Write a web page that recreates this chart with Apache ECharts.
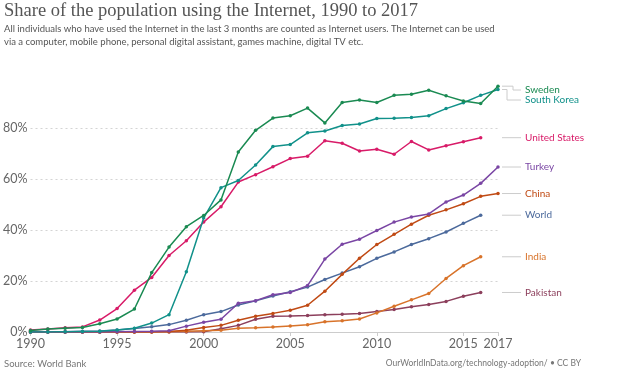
<!DOCTYPE html>
<html><head><meta charset="utf-8">
<script src="https://cdn.jsdelivr.net/npm/echarts@6/dist/echarts.min.js"></script>
<style>html,body{margin:0;padding:0;background:#fff}#c{width:624px;height:382px}</style>
</head><body><div id="c"></div>
<script>
const years = [1990,1991,1992,1993,1994,1995,1996,1997,1998,1999,2000,2001,2002,2003,2004,2005,2006,2007,2008,2009,2010,2011,2012,2013,2014,2015,2016,2017];
const xTickLabels = [1990,1995,2000,2005,2010,2015,2017];
const yTickLabels = [0,20,40,60,80];

const sweden     = [0.6,1.2,1.5,1.8,3.2,5.1,9.0,23.3,33.3,41.3,45.7,51.8,70.6,79.1,83.9,84.8,87.8,82.0,90.0,91.0,90.0,92.8,93.2,94.8,92.6,90.6,89.6,96.4];
const southKorea = [0.0,0.0,0.1,0.2,0.3,0.8,1.5,3.5,6.8,23.6,44.7,56.6,59.4,65.5,72.7,73.5,78.1,78.8,81.0,81.6,83.7,83.8,84.1,84.8,87.6,89.9,92.8,95.1];
const unitedStates=[0.8,1.2,1.7,2.0,4.7,9.2,16.4,21.4,30.0,35.8,43.1,49.1,58.8,61.7,64.8,68.0,68.9,75.0,74.0,71.0,71.7,69.7,74.7,71.4,73.0,74.6,76.2];
const turkey     = [0,0,0,0,0,0.1,0.2,0.3,0.5,2.3,3.8,5.0,11.3,12.3,14.6,15.5,18.2,28.6,34.4,36.4,39.8,43.1,45.1,46.3,51.0,53.7,58.3,64.7];
const china      = [0,0,0,0,0,0,0,0,0.2,0.7,1.8,2.6,4.6,6.2,7.3,8.5,10.5,16.0,22.6,28.9,34.3,38.3,42.3,45.8,47.9,50.3,53.2,54.3];
const world      = [0.05,0.1,0.1,0.3,0.4,0.8,1.4,2.1,2.9,4.6,6.8,8.0,10.6,12.2,14.1,15.8,17.6,20.6,23.1,25.6,28.9,31.4,34.3,36.6,39.2,42.6,45.8];
const india      = [0,0,0,0,0,0,0,0.1,0.1,0.3,0.5,0.7,1.5,1.7,2.0,2.4,2.8,4.0,4.4,5.1,7.5,10.1,12.6,15.1,21.0,26.0,29.5];
const pakistan   = [0,0,0,0,0,0,0,0,0,0,0.1,1.3,2.6,5.0,6.2,6.3,6.5,6.8,7.0,7.3,8.0,8.8,9.9,10.8,12.0,14.0,15.5];

const seriesNames  = ['Sweden','South Korea','United States','Turkey','China','World','India','Pakistan'];
const seriesValues = [sweden, southKorea, unitedStates, turkey, china, world, india, pakistan];
const seriesColors = ['#1a8a52','#11918a','#d81b68','#7a46a4','#c04a14','#4c6a9c','#d8732a','#8c3f5c'];

const chart = echarts.init(document.getElementById('c'), null, {renderer:'canvas'});
const GRID = {left:29, right:126, top:77, bottom:50};

const option = {
  animation:false,
  backgroundColor:'#fff',
  title:[
    {text:'Share of the population using the Internet, 1990 to 2017', left:4, top:2, padding:0,
     textStyle:{fontFamily:'Liberation Serif', fontSize:18.5, fontWeight:'normal', color:'#555'}},
    {text:'All individuals who have used the Internet in the last 3 months are counted as Internet users. The Internet can be used\nvia a computer, mobile phone, personal digital assistant, games machine, digital TV etc.',
     left:4, top:22, padding:0, textStyle:{fontFamily:'Lato', fontSize:9.5, fontWeight:'normal', color:'#555', lineHeight:13}},
    {text:'Source: World Bank', left:4, top:359, padding:0,
     textStyle:{fontFamily:'Lato', fontSize:9.5, fontWeight:'normal', color:'#777'}},
    {text:'OurWorldInData.org/technology-adoption/ • CC BY', right:43, top:359, padding:0,
     textStyle:{fontFamily:'Lato', fontSize:8.5, fontWeight:'normal', color:'#777'}}
  ],
  grid:GRID,
  xAxis:{
    type:'value', min:1990, max:2017, interval:5,
    axisLine:{show:true, lineStyle:{color:'#ccc', width:1}},
    axisTick:{show:true, length:4, lineStyle:{color:'#ccc'}},
    splitLine:{show:false},
    axisLabel:{fontFamily:'Lato', fontSize:12.5, color:'#666', margin:5,
      showMinLabel:true, showMaxLabel:true,
      formatter:v => xTickLabels.includes(v) ? String(v) : ''}
  },
  yAxis:{
    type:'value', min:0, max:100, interval:20,
    axisLine:{show:false}, axisTick:{show:false},
    splitLine:{show:true, showMinLine:false, showMaxLine:false, lineStyle:{color:'#d4d4d4', type:[2,3], width:1}},
    axisLabel:{fontFamily:'Lato', fontSize:12.5, color:'#666', margin:3, showMaxLabel:false,
      formatter:v => yTickLabels.includes(v) ? v + '%' : ''}
  },
  series: seriesNames.map((n,i)=>({
    name:n, type:'line',
    data: seriesValues[i].map((v,j)=>[years[j], v]),
    symbol:'circle', symbolSize:3.5, showSymbol:true,
    lineStyle:{width:1.5, color:seriesColors[i]},
    itemStyle:{color:seriesColors[i]},
    z: 10 - i
  }))
};
chart.setOption(option);

// end labels with leader lines
const x0 = chart.convertToPixel({gridIndex:0}, [years[years.length-1], 0])[0] + 4;
const labelMinY = GRID.top + 13, labelGap = 10;
const ends = seriesNames.map((n,i)=>{
  const arr = seriesValues[i];
  const p = chart.convertToPixel({gridIndex:0}, [years[arr.length-1], arr[arr.length-1]]);
  return {i, name:n, y:p[1]};
}).sort((a,b)=>a.y-b.y);
let prev = -Infinity;
const elements = [];
let shifted = 0;
ends.forEach(e=>{
  const ly = Math.max(e.y, prev + labelGap, labelMinY);
  prev = ly;
  const kneeX = Math.abs(ly - e.y) > 1.5 ? x0 + (shifted++ === 0 ? 11 : 5) : x0 + 8;
  elements.push({type:'polyline', silent:true,
    shape:{points:[[x0,e.y],[kneeX,e.y],[kneeX,ly],[x0+19,ly]]},
    style:{stroke:'#ccc', lineWidth:1, fill:null}});
  elements.push({type:'text', silent:true, x:x0+23, y:ly,
    style:{text:e.name, fill:seriesColors[e.i], font:'10px Lato', textVerticalAlign:'middle', verticalAlign:'middle'}});
});
chart.setOption({graphic:{elements}});
</script></body></html>
